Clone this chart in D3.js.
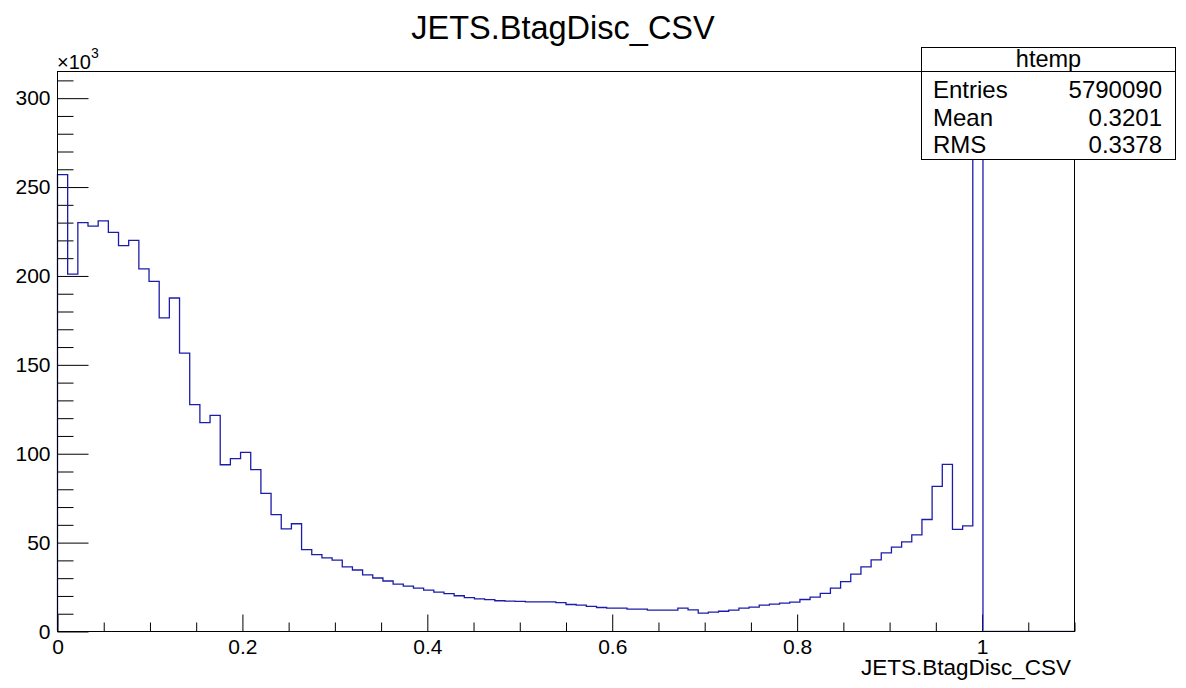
<!DOCTYPE html>
<html>

<head>
    <meta charset="utf-8">
    <style>
        body {
            margin: 0;
            background: white;
        }

        svg {
            font-family: 'Liberation Sans', Arial, Helvetica, sans-serif;
        }

        .tick line {
            stroke: #000;
        }

        .domain {
            display: none;
        }

        .tick text {
            font-size: 21px;
            fill: #000;
        }
    </style>
</head>

<body>
    <svg width="1186" height="688"></svg>
</body>

<script src="https://d3js.org/d3.v7.min.js"></script>

<script>
    // histogram htemp: 100 bins between 0 and 1.1, contents in units of 10^3
    let xMin = 0;
    let xMax = 1.1;
    let nBins = 100;

    let binContents = [
        257, 201, 230, 228, 231, 224.5, 217, 220, 204, 197,
        176.4, 187.6, 156.6, 127.6, 117.5, 121.6, 93.8, 97.2, 100.8, 91,
        77.7, 65.7, 57.7, 60.6, 46, 43.2, 41.4, 40.2, 36.3, 34.6,
        31.8, 30.1, 28.4, 26.7, 25.5, 24.4, 23.3, 22.2, 21.3, 20.1,
        19.0, 18.4, 17.9, 17.3, 17.1, 16.9, 16.7, 16.7, 16.7, 16.2,
        15.2, 14.8, 14.1, 13.5, 13.2, 13.2, 12.6, 12.6, 12.0, 12.0,
        12.0, 13.2, 12.2, 10.3, 10.9, 11.4, 12.0, 13.2, 13.7, 14.8,
        15.4, 16.0, 16.5, 18.0, 19.3, 21.4, 24.4, 28.0, 32.3, 36.3,
        40.3, 44.2, 47.5, 50.4, 54.3, 63.0, 81.6, 94.0, 57.4, 59.4,
        300, 0, 0, 0, 0, 0, 0, 0, 0, 0
    ];

    let xMajorTicks = [0, 0.2, 0.4, 0.6, 0.8, 1];
    let xMajorLabels = ["0", "0.2", "0.4", "0.6", "0.8", "1"];
    let yMajorTicks = [0, 50, 100, 150, 200, 250, 300];

    let statNames = ["Entries", "Mean", "RMS"];
    let statValues = ["5790090", "0.3201", "0.3378"];

    let title = "JETS.BtagDisc_CSV";
    let xTitle = "JETS.BtagDisc_CSV";
    let histName = "htemp";

    let svg = d3.select("svg");

    let frame = { left: 57.5, right: 1074.5, top: 71.5, bottom: 631.5 };

    let x = d3.scaleLinear()
        .domain([xMin, xMax])
        .range([frame.left, frame.right]);

    // ROOT puts 5% headroom above the highest bin
    let y = d3.scaleLinear()
        .domain([0, d3.max(binContents) * 1.05])
        .range([frame.bottom, frame.top]);

    let binWidth = (xMax - xMin) / nBins;

    // step outline of the histogram
    let steps = [[xMin, 0]];
    binContents.forEach((c, i) => {
        steps.push([xMin + i * binWidth, c]);
        steps.push([xMin + (i + 1) * binWidth, c]);
    });
    steps.push([xMax, 0]);

    let line = d3.line()
        .x(d => x(d[0]))
        .y(d => y(d[1]));

    // minor ticks
    let xMinor = d3.range(0, xMax + 1e-9, 0.05).filter(v => Math.abs(v / 0.2 - Math.round(v / 0.2)) > 1e-6);
    let yMinor = d3.range(0, 311, 10).filter(v => v % 50 != 0);

    svg.append("g")
        .attr("transform", `translate(0,${frame.bottom})`)
        .call(d3.axisBottom(x).tickValues(xMinor).tickSize(-9).tickFormat(""));

    svg.append("g")
        .attr("class", "x axis")
        .attr("transform", `translate(0,${frame.bottom})`)
        .call(d3.axisBottom(x)
            .tickValues(xMajorTicks)
            .tickSize(-17)
            .tickPadding(8)
            .tickFormat((d, i) => xMajorLabels[i]));

    svg.append("g")
        .attr("transform", `translate(${frame.left},0)`)
        .call(d3.axisLeft(y).tickValues(yMinor).tickSize(-16).tickFormat(""));

    svg.append("g")
        .attr("class", "y axis")
        .attr("transform", `translate(${frame.left},0)`)
        .call(d3.axisLeft(y)
            .tickValues(yMajorTicks)
            .tickSize(-31)
            .tickPadding(7)
            .tickFormat(d3.format("d")));

    // keep the outline off the bottom axis line
    svg.append("clipPath")
        .attr("id", "plot-clip")
        .append("rect")
        .attr("x", frame.left - 2)
        .attr("y", frame.top)
        .attr("width", frame.right - frame.left + 4)
        .attr("height", frame.bottom - frame.top - 0.7);

    svg.append("path")
        .attr("d", line(steps))
        .attr("clip-path", "url(#plot-clip)")
        .attr("fill", "none")
        .attr("stroke", "#1c1caa")
        .attr("stroke-width", 1.3);

    // frame
    svg.append("rect")
        .attr("x", frame.left)
        .attr("y", frame.top)
        .attr("width", frame.right - frame.left)
        .attr("height", frame.bottom - frame.top)
        .attr("fill", "none")
        .attr("stroke", "#000")
        .attr("stroke-width", 1);

    // exponent label
    let expo = svg.append("text")
        .attr("x", 57)
        .attr("y", 69)
        .style("font-size", "20px");
    expo.append("tspan").text("×10");
    expo.append("tspan")
        .attr("dy", -11)
        .style("font-size", "14px")
        .text("3");

    // title
    svg.append("text")
        .attr("x", 563)
        .attr("y", 39)
        .attr("text-anchor", "middle")
        .style("font-size", "32.5px")
        .text(title);

    svg.append("text")
        .attr("x", 1071)
        .attr("y", 675)
        .attr("text-anchor", "end")
        .style("font-size", "22.5px")
        .text(xTitle);

    // stats box
    let box = { x: 921.5, y: 47.5, w: 254, h: 112 };
    svg.append("rect")
        .attr("x", box.x)
        .attr("y", box.y)
        .attr("width", box.w)
        .attr("height", box.h)
        .attr("fill", "white")
        .attr("stroke", "#000");

    svg.append("line")
        .attr("x1", box.x)
        .attr("x2", box.x + box.w)
        .attr("y1", frame.top)
        .attr("y2", frame.top)
        .attr("stroke", "#000");

    svg.append("text")
        .attr("x", box.x + box.w / 2)
        .attr("y", 67)
        .attr("text-anchor", "middle")
        .style("font-size", "23.5px")
        .text(histName);

    statNames.forEach((name, i) => {
        svg.append("text")
            .attr("x", 933)
            .attr("y", 98 + i * 27.7)
            .style("font-size", "24px")
            .text(name);
        svg.append("text")
            .attr("x", 1162)
            .attr("y", 98 + i * 27.7)
            .attr("text-anchor", "end")
            .style("font-size", "24px")
            .text(statValues[i]);
    });
</script>

</html>
